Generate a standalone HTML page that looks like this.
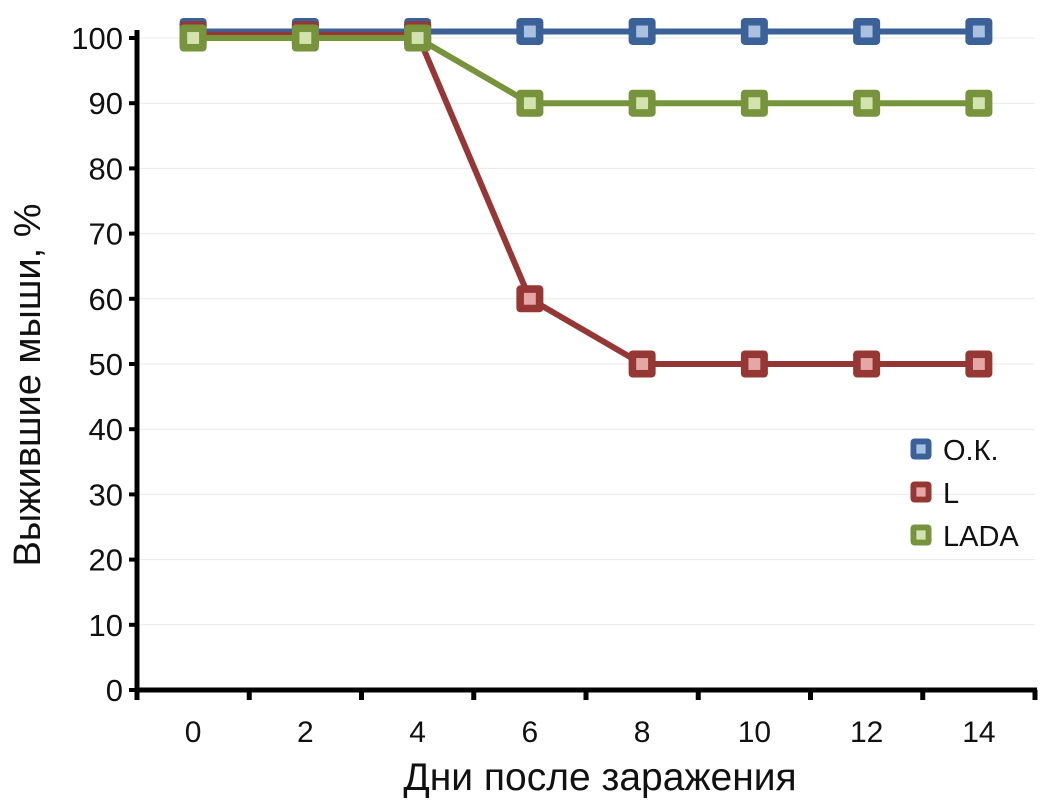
<!DOCTYPE html>
<html><head><meta charset="utf-8"><style>
body{margin:0;background:#fff;}
svg{display:block;font-family:"Liberation Sans","DejaVu Sans",sans-serif;}
</style></head><body>
<svg id="chart" width="1040" height="807"></svg>
<script>
const days=[0,2,4,6,8,10,12,14];
const seriesNames=["О.К.","L","LADA"];
const okValues=[101,101,101,101,101,101,101,101];
const lValues=[100.5,100.5,100.5,60,50,50,50,50];
const ladaValues=[100,100,100,90,90,90,90,90];
const yTicks=[0,10,20,30,40,50,60,70,80,90,100];
const colors=["#3a6299","#953735","#77933c"];
const inner=["#a9c0e0","#e6a6a5","#d3e3b0"];
const NS="http://www.w3.org/2000/svg";
const svg=document.getElementById('chart');
const x0=137,x1=1035,yTop=38,yBot=690;
const band=(x1-x0)/days.length;
function xs(i){return x0+band*(i+0.5);}
function ys(v){return yBot-(v/100)*(yBot-yTop);}
function mk(t,a,p){const e=document.createElementNS(NS,t);for(const k in a)e.setAttribute(k,a[k]);(p||svg).appendChild(e);return e;}
yTicks.forEach(v=>{
 if(v>0){const g=mk('line',{x1:x0,x2:x1,y1:ys(v),y2:ys(v),stroke:'#e8e8e8','stroke-width':1});
 
 }
 const tk=mk('line',{x1:x0-8,x2:x0,y1:ys(v),y2:ys(v),stroke:'#000','stroke-width':4});
 
 
 const t=mk('text',{x:x0-14,y:ys(v)+11,'text-anchor':'end','font-size':31,fill:'#111'});
 t.textContent=v;
 
 
});
const ya=mk('line',{x1:x0,x2:x0,y1:30,y2:yBot+2,stroke:'#000','stroke-width':5});


const xa=mk('line',{x1:x0-2,x2:x1+2,y1:yBot,y2:yBot,stroke:'#000','stroke-width':5});


for(let i=0;i<=days.length;i++){
 const tk=mk('line',{x1:x0+band*i,x2:x0+band*i,y1:yBot,y2:yBot+10,stroke:'#000','stroke-width':5});
 
 
}
days.forEach((d,i)=>{
 const t=mk('text',{x:xs(i),y:742,'text-anchor':'middle','font-size':30,fill:'#111'});
 t.textContent=d;
 
 
});
const xt=mk('text',{x:600,y:790,'text-anchor':'middle','font-size':39,fill:'#111'});
xt.textContent='Дни после заражения';


const yt=mk('text',{x:0,y:0,'text-anchor':'middle','font-size':38,fill:'#111',transform:'translate(40,385) rotate(-90)'});
yt.textContent='Выжившие мыши, %';


function marker(cx,cy,s,size,g){
 const r=mk('rect',{x:cx-size/2,y:cy-size/2,width:size,height:size,rx:4,fill:colors[s]},g);
 
 
 const r2=mk('rect',{x:cx-size*0.22,y:cy-size*0.22,width:size*0.44,height:size*0.44,fill:inner[s]},g);
 
 
}
[okValues,lValues,ladaValues].forEach((vals,s)=>{
 const g=mk('g',{});
 
 
 const pts=vals.map((v,i)=>xs(i)+','+ys(v)).join(' ');
 const pl=mk('polyline',{points:pts,fill:'none',stroke:colors[s],'stroke-width':6,'stroke-linejoin':'round'},g);
 
 
 vals.forEach((v,i)=>marker(xs(i),ys(v),s,27,g));
});
seriesNames.forEach((n,s)=>{
 const g=mk('g',{});
 
 
 const cy=449+s*43;
 marker(921,cy,s,21,g);
 const t=mk('text',{x:943,y:cy+11,'font-size':29,fill:'#111'},g);
 t.textContent=n;
 
 
});
</script>
</body></html>
